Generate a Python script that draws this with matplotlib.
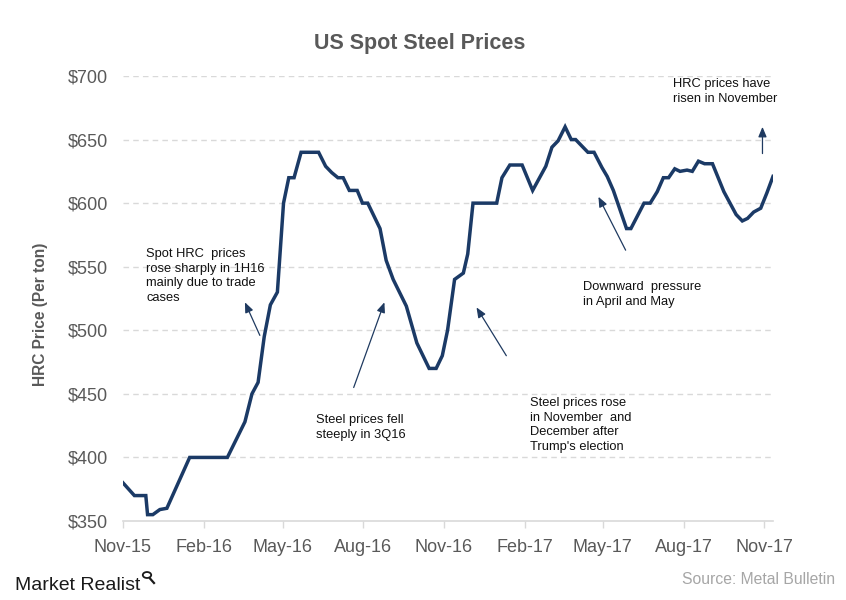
import matplotlib
matplotlib.use("Agg")
import matplotlib.pyplot as plt
import pandas as pd
from matplotlib.patches import Circle
from matplotlib.lines import Line2D

plt.rcParams['font.family'] = ['Liberation Sans', 'DejaVu Sans']

# ---- data (weekly spot HRC price turning points, $/ton) ----
dates = ["2015-11-01", "2015-11-14", "2015-11-27", "2015-11-29", "2015-12-05",
         "2015-12-13", "2015-12-21", "2016-01-16", "2016-02-28", "2016-03-19",
         "2016-03-27", "2016-04-03", "2016-04-10", "2016-04-17", "2016-04-25",
         "2016-05-02", "2016-05-08", "2016-05-14", "2016-05-22", "2016-06-11",
         "2016-06-19", "2016-06-26", "2016-07-03", "2016-07-09", "2016-07-16",
         "2016-07-25", "2016-07-31", "2016-08-06", "2016-08-20", "2016-08-27",
         "2016-09-04", "2016-09-19", "2016-10-01", "2016-10-15", "2016-10-23",
         "2016-10-30", "2016-11-05", "2016-11-13", "2016-11-23", "2016-11-28",
         "2016-12-04", "2016-12-31", "2017-01-06", "2017-01-15", "2017-01-29",
         "2017-02-10", "2017-02-25", "2017-03-04", "2017-03-11", "2017-03-19",
         "2017-03-26", "2017-03-31", "2017-04-14", "2017-04-21", "2017-04-30",
         "2017-05-06", "2017-05-13", "2017-05-28", "2017-06-02", "2017-06-17",
         "2017-06-24", "2017-07-02", "2017-07-09", "2017-07-15", "2017-07-22",
         "2017-07-28", "2017-08-05", "2017-08-11", "2017-08-18", "2017-08-25",
         "2017-09-03", "2017-09-16", "2017-09-30", "2017-10-07", "2017-10-13",
         "2017-10-20", "2017-10-28", "2017-11-04", "2017-11-11"]
prices = [380, 370, 370, 355, 355,
          359, 360, 400, 400, 428,
          450, 459, 495, 520, 530,
          600, 620, 620, 640, 640,
          629, 624, 620, 620, 610,
          610, 600, 600, 580, 555,
          540, 519, 490, 470, 470,
          480, 500, 540, 545, 560,
          600, 600, 620, 630, 630,
          610, 629, 644, 649, 660,
          650, 650, 640, 640, 628,
          621, 610, 580, 580, 600,
          600, 609, 620, 620, 627,
          625, 626, 625, 633, 631,
          631, 609, 591, 586, 588,
          593, 596, 608, 621]

tick_dates = ["2015-11-01", "2016-02-01", "2016-05-01", "2016-08-01", "2016-11-01",
              "2017-02-01", "2017-05-01", "2017-08-01", "2017-11-01"]
tick_labels = ["Nov-15", "Feb-16", "May-16", "Aug-16", "Nov-16",
               "Feb-17", "May-17", "Aug-17", "Nov-17"]
y_ticks = [350, 400, 450, 500, 550, 600, 650, 700]
y_labels = ["$350", "$400", "$450", "$500", "$550", "$600", "$650", "$700"]

title = "US Spot Steel Prices"
ylabel = "HRC Price (Per ton)"
source = "Source: Metal Bulletin"

notes = [
    ("Spot HRC  prices\nrose sharply in 1H16\nmainly due to trade\ncases",
     ("2016-04-05", 496), ("2016-03-19", 522)),
    ("Steel prices fell\nsteeply in 3Q16",
     ("2016-07-21", 455), ("2016-08-25", 522)),
    ("Steel prices rose\nin November  and\nDecember after\nTrump's election",
     ("2017-01-11", 480), ("2016-12-08", 518)),
    ("Downward  pressure\nin April and May",
     ("2017-05-27", 563), ("2017-04-26", 605)),
    ("HRC prices have\nrisen in November",
     ("2017-10-30", 639), ("2017-10-30", 660)),
]
note_pos = [(146, 248), (316, 414), (530, 397), (583, 281), (673, 78)]

# ---- figure ----
W, H = 846, 600
fig = plt.figure(figsize=(W / 100, H / 100), dpi=100)
ax = fig.add_axes([123 / W, 1 - 521 / H, (773 - 123) / W, (521 - 76) / H])

x = pd.to_datetime(dates)
navy = "#1b3a66"
ax.plot(x, prices, color=navy, lw=2.5, solid_joinstyle='miter', zorder=3)

ax.set_xlim(pd.Timestamp("2015-11-01"), pd.Timestamp("2017-11-11"))
ax.set_ylim(350, 700)
ax.set_xticks(pd.to_datetime(tick_dates))
ax.set_xticklabels(tick_labels)
ax.set_yticks(y_ticks)
ax.set_yticklabels(y_labels)

grey_txt = "#595959"
ax.tick_params(axis='x', length=5, width=1, color="#d9d9d9", labelsize=13,
               labelcolor=grey_txt, pad=8)
ax.tick_params(axis='y', length=0, labelsize=13, labelcolor=grey_txt, pad=11)
for s in ['top', 'right', 'left']:
    ax.spines[s].set_visible(False)
ax.spines['bottom'].set_color("#d9d9d9")
ax.spines['bottom'].set_linewidth(1.2)

ax.grid(axis='y', color="#d9d9d9", linestyle=(0, (4, 3)), linewidth=1)
ax.set_axisbelow(True)
ax.get_ygridlines()[0].set_visible(False)

fig.text(420 / W, 1 - 43 / H, title, ha='center', va='center', fontsize=15.5,
         fontweight='bold', color=grey_txt)
fig.text(40 / W, 1 - 314 / H, ylabel, ha='center', va='center', rotation=90,
         fontsize=11.2, fontweight='bold', color=grey_txt)

for (txt, tail, head), (px, py) in zip(notes, note_pos):
    fig.text(px / W, 1 - py / H, txt, ha='left', va='top', fontsize=9.3,
             color="#111111", linespacing=1.3)
    ax.annotate("", xy=(pd.Timestamp(head[0]), head[1]),
                xytext=(pd.Timestamp(tail[0]), tail[1]),
                arrowprops=dict(arrowstyle="-|>,head_length=0.6,head_width=0.25",
                                color="#1f3a60", lw=0.9, shrinkA=0, shrinkB=0))

# footer
fig.text(15 / W, 1 - 585 / H, "Market Realist", ha='left', va='center',
         fontsize=14, color="#1a1a1a")
c = Circle((147 / W, 1 - 575 / H), 4.2 / W, transform=fig.transFigure,
           fill=False, lw=1.3, color="#1a1a1a")
fig.add_artist(c)
fig.add_artist(Line2D([150 / W, 154 / W], [1 - 578.5 / H, 1 - 583 / H],
                      transform=fig.transFigure, lw=1.6, color="#1a1a1a"))
fig.text(835 / W, 1 - 580 / H, source, ha='right', va='center',
         fontsize=11.3, color="#a6a6a6")

fig.savefig("out.png", dpi=100)
